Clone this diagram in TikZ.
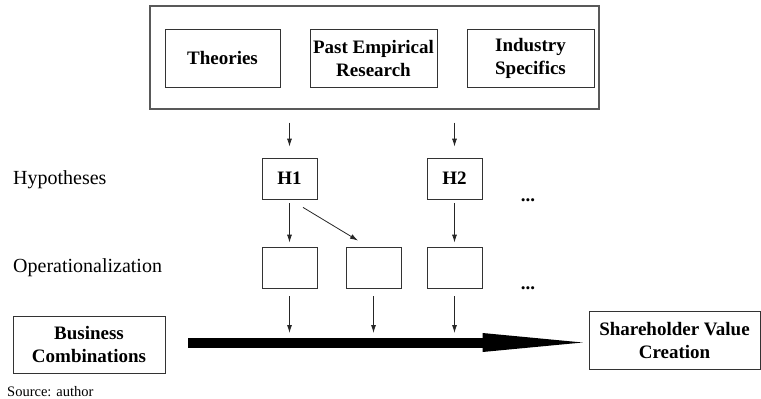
\documentclass[tikz,border=0pt]{standalone}
\usepackage{fontspec}
\setmainfont{Liberation Serif}
\usetikzlibrary{arrows.meta,calc}

\begin{document}
\begin{tikzpicture}[x=1pt,y=-1pt,
		box/.style={draw=black!80, line width=0.8pt, align=center, inner sep=0pt, font=\fontsize{19}{23}\selectfont\bfseries},
		lbl/.style={anchor=west, inner sep=0pt, font=\fontsize{20}{24}\selectfont},
		arr/.style={draw=black!85, line width=0.8pt, -{Latex[length=8pt,width=5pt]}},
		flow/.style={line width=10pt, -{Triangle[length=100pt,width=19pt,line width=0pt]}}]
		\useasboundingbox (0,0) rectangle (761,399);
		% sources of the hypotheses
		\node[box, draw=black!65, line width=1.1pt, minimum width=449, minimum height=103] (frame) at (374.5,57.5) {};
		\node[box, minimum width=115, minimum height=58] (theo) at (222.5,58) {Theories};
		\node[box, minimum width=127, minimum height=58] (past) at (373.5,58) {Past Empirical \\ Research};
		\node[box, minimum width=127, minimum height=58] (indu) at (530.5,58) {Industry \\ Specifics};
		% hypotheses and their operationalization
		\node[lbl] (hyp) at (13,180) {Hypotheses};
		\node[lbl] (oper) at (13,268) {Operationalization};
		\node[box, minimum width=55, minimum height=41] (h1) at (289.5,178.5) {H1};
		\node[box, minimum width=55, minimum height=41] (h2) at (454.5,178.5) {H2};
		\node[anchor=base, font=\fontsize{19}{23}\selectfont\bfseries] (dotsA) at (528,201) {...};
		\node[box, minimum width=55, minimum height=41] (op1) at (289.5,267.5) {};
		\node[box, minimum width=55, minimum height=41] (op2) at (373.5,267.5) {};
		\node[box, minimum width=55, minimum height=41] (op3) at (454.5,267.5) {};
		\node[anchor=base, font=\fontsize{19}{23}\selectfont\bfseries] (dotsB) at (528,289) {...};
		% value creation
		\node[box, minimum width=152, minimum height=57] (busi) at (89,344.5) {Business \\ Combinations};
		\node[box, minimum width=171, minimum height=58] (shv) at (674.5,340) {Shareholder Value \\ Creation};
		\node[anchor=base west, inner sep=0pt, font=\fontsize{14.5}{17}\selectfont] (src) at (7,396) {Source: author};

		\draw[arr, shorten <=13pt, shorten >=11pt] (frame.south -| h1) -- (h1);
		\draw[arr, shorten <=13pt, shorten >=11pt] (frame.south -| h2) -- (h2);
		\draw[arr, shorten <=4pt, shorten >=4pt] (h1) -- (op1);
		\draw[arr] ($(h1.south)+(13.5,8)$) -- ($(op2.north)+(-15.5,-6)$);
		\draw[arr, shorten <=4pt, shorten >=4pt] (h2) -- (op3);
		\draw[flow] ($(busi.east)+(23,-2)$) -- ($(shv.west)+(-6,2.5)$);
		\foreach \op in {op1,op2,op3}
			\draw[arr, shorten <=8pt, shorten >=9.5pt] (\op.south) -- (\op.south |- 0,342.5);
	\end{tikzpicture}
\end{document}
